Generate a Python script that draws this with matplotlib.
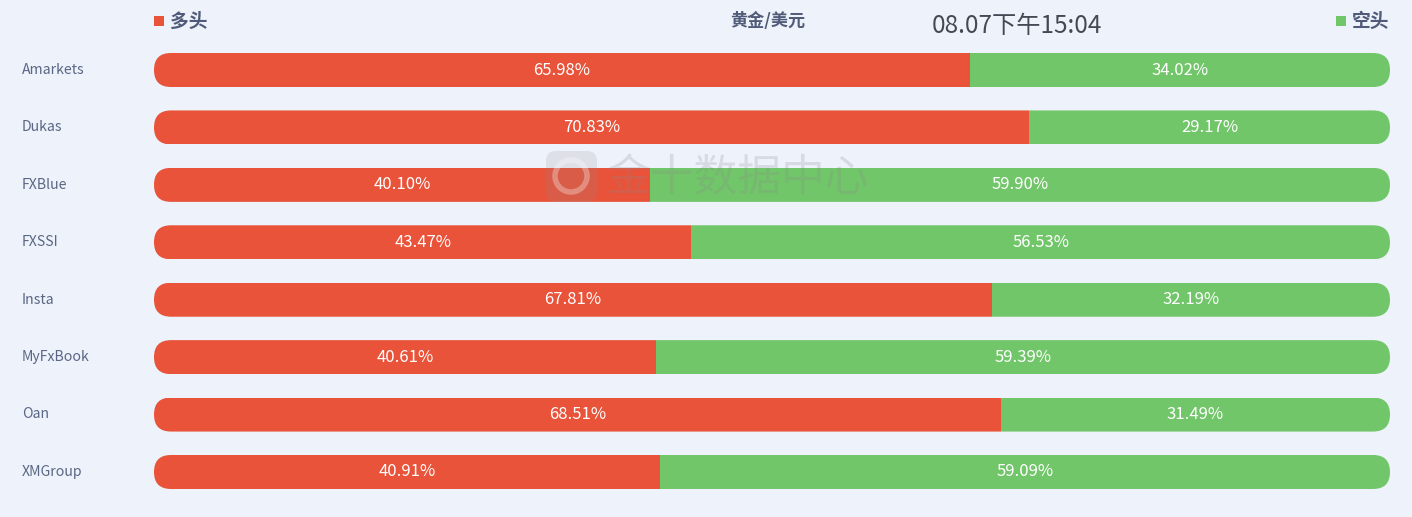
import matplotlib
matplotlib.use("Agg")
import matplotlib.pyplot as plt
from matplotlib.patches import FancyBboxPatch, Rectangle, Ellipse
from matplotlib.transforms import IdentityTransform

plt.rcParams['font.family'] = ['Noto Sans CJK SC', 'DejaVu Sans']

brokers = ["Amarkets", "Dukas", "FXBlue", "FXSSI", "Insta", "MyFxBook", "Oan", "XMGroup"]
long_pct = [65.98, 70.83, 40.10, 43.47, 67.81, 40.61, 68.51, 40.91]
short_pct = [34.02, 29.17, 59.90, 56.53, 32.19, 59.39, 31.49, 59.09]
title = "黄金/美元"
timestamp = "08.07下午15:04"
legend_long = "多头"
legend_short = "空头"

BG = "#eef2fa"
RED = "#e8533a"
GREEN = "#72c66a"
TXT = "#5a6785"

W, H = 1412, 517
fig = plt.figure(figsize=(W / 100, H / 100), dpi=100, facecolor=BG)
ax = fig.add_axes([154 / W, 1 - 500.7 / H, 1236 / W, 459.4 / H])
ax.set_facecolor(BG)
ax.set_xlim(0, 100)
ax.set_ylim(len(brokers) - 0.5, -0.5)
ax.axis("off")

bar_h = 34 / 57.4
ys = list(range(len(brokers)))
red_bars = ax.barh(ys, long_pct, height=bar_h, color=RED, zorder=2)
green_bars = ax.barh(ys, short_pct, left=long_pct, height=bar_h, color=GREEN, zorder=2)

# rounded clip for each row
for i in ys:
    (x0, y0) = ax.transData.transform((0, i + bar_h / 2))
    (x1, y1) = ax.transData.transform((100, i - bar_h / 2))
    hpx = y1 - y0
    clip = FancyBboxPatch((x0, y0), x1 - x0, hpx,
                          boxstyle=f"round,pad=0,rounding_size={hpx / 2}",
                          transform=IdentityTransform(), facecolor="none", edgecolor="none")
    red_bars[i].set_clip_path(clip)
    green_bars[i].set_clip_path(clip)

for i, (lp, sp) in enumerate(zip(long_pct, short_pct)):
    ax.text(lp / 2, i, f"{lp:.2f}%", ha="center", va="center", color="white",
            fontsize=12, zorder=3)
    ax.text(lp + sp / 2, i, f"{sp:.2f}%", ha="center", va="center", color="white",
            fontsize=12, zorder=3)
    fig.text(22 / W, 1 - (70 + i * 57.4) / H, brokers[i], ha="left", va="center",
             color=TXT, fontsize=10.2)

# header
fig.patches.append(Rectangle((154 / W, 1 - 26 / H), 10 / W, 10 / H, transform=fig.transFigure,
                             facecolor=RED, edgecolor="none"))
fig.text(170 / W, 1 - 21 / H, legend_long, ha="left", va="center", color="#4f5b78",
         fontsize=13.5, fontweight="bold")
fig.patches.append(Rectangle((1336 / W, 1 - 26 / H), 10 / W, 10 / H, transform=fig.transFigure,
                             facecolor=GREEN, edgecolor="none"))
fig.text(1352 / W, 1 - 21 / H, legend_short, ha="left", va="center", color="#4f5b78",
         fontsize=13.5, fontweight="bold")
fig.text(768 / W, 1 - 21 / H, title, ha="center", va="center", color="#4f5b78",
         fontsize=12.3, fontweight="bold")
fig.text(1017 / W, 1 - 26 / H, timestamp, ha="center", va="center", color="#444a55",
         fontsize=17.5)

# watermark
fig.patches.append(FancyBboxPatch((546, H - 202), 51, 51,
                                  boxstyle="round,pad=0,rounding_size=10",
                                  transform=IdentityTransform(), facecolor="#8a8a8a",
                                  edgecolor="none", alpha=0.17, zorder=5))
fig.patches.append(Ellipse((571, H - 176), 32, 32, transform=IdentityTransform(),
                           facecolor="none", edgecolor="white", lw=4, alpha=0.3, zorder=6))
fig.text(738 / W, 1 - 178 / H, "金十数据中心", ha="center", va="center", color="#888888",
         alpha=0.22, fontsize=31.5, zorder=5)

fig.savefig("out.png", dpi=100, facecolor=BG)
